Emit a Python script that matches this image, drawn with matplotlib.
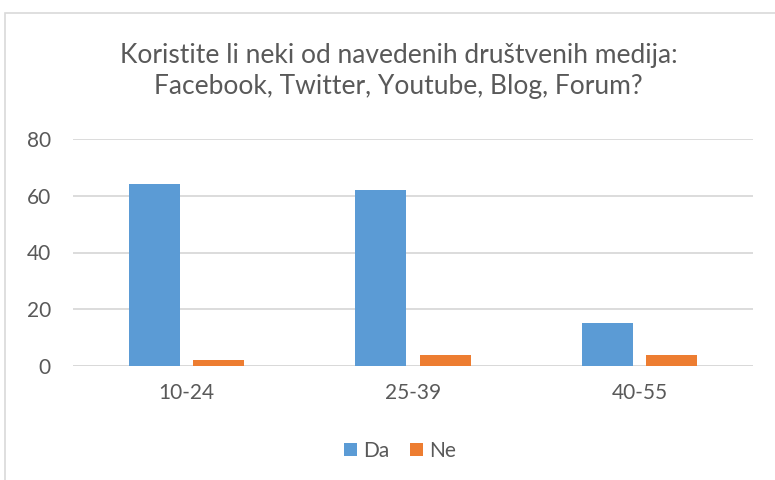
import numpy as np
import matplotlib.pyplot as plt
from matplotlib.patches import Rectangle

plt.rcParams['font.family'] = ['Lato', 'DejaVu Sans']

categories = ['10-24', '25-39', '40-55']
da = [64, 62, 15]
ne = [2, 4, 4]
yticks = [0, 20, 40, 60, 80]

blue = '#5B9BD5'
orange = '#ED7D31'
txt = '#595959'
grid = '#D9D9D9'

fig = plt.figure(figsize=(7.75, 4.8), dpi=100)
# chart border like the Excel frame
fig.patches.append(Rectangle((5 / 775, -0.05), 1.0, 1 - 13 / 480 + 0.05,
                             transform=fig.transFigure, fill=False,
                             edgecolor=grid, linewidth=1.2))

ax = fig.add_axes([73 / 775, 1 - 366 / 480, 680 / 775, 227 / 480])
x = np.arange(len(categories))
w = 0.225
ax.bar(x - 0.142, da, w, color=blue, label='Da', zorder=3)
ax.bar(x + 0.142, ne, w, color=orange, label='Ne', zorder=3)

ax.set_xlim(-0.5, 2.5)
ax.set_ylim(0, 80)
ax.set_yticks(yticks)
ax.set_xticks(x)
ax.set_xticklabels(categories)
ax.yaxis.grid(True, color=grid, linewidth=1.3, zorder=0)
for s in ax.spines.values():
    s.set_visible(False)
ax.axhline(0, color=grid, linewidth=1.3, zorder=2)
ax.tick_params(length=0, labelsize=15, colors=txt)
ax.tick_params(axis='y', pad=16)
ax.tick_params(axis='x', pad=12)

fig.text(0.514, 1 - 71 / 480,
         'Koristite li neki od navedenih društvenih medija:\nFacebook, Twitter, Youtube, Blog, Forum?',
         ha='center', va='center', fontsize=19, color=txt, linespacing=1.3)

fig.legend(loc='center', bbox_to_anchor=(0.516, 1 - 451 / 480), ncol=2,
           frameon=False, fontsize=15, handlelength=0.6, handleheight=0.6,
           handletextpad=0.3, columnspacing=1.0, labelcolor=txt)

fig.savefig('out.png', dpi=100)
